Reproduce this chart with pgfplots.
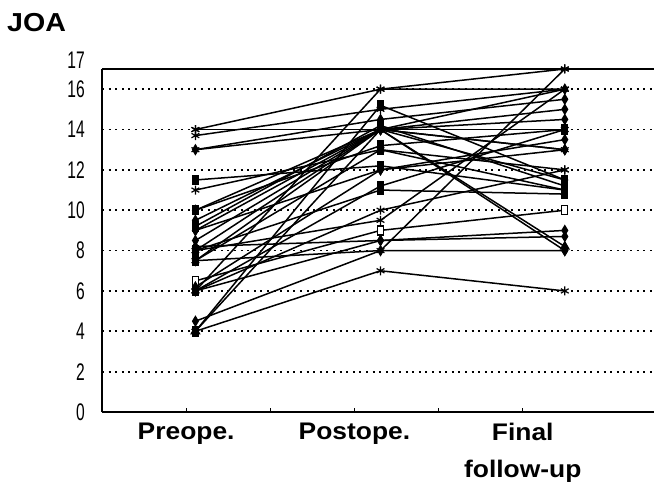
\documentclass[border=0pt]{standalone}
\usepackage{fontspec}
\setmainfont{Liberation Sans}
\newfontfamily\labfont[FakeStretch=1.1]{Liberation Sans}
\newfontfamily\tickfont[FakeStretch=0.65]{Liberation Sans}
\usepackage{pgfplots}
\pgfplotsset{compat=1.18}
\pgfplotsset{
 p/.style={black, line width=1.5pt, mark size=4.5pt},
 mA/.style={p, mark=asterisk, mark options={line width=1.2pt, solid}},
 mS/.style={p, mark=square*, mark options={xscale=0.65, solid, fill=black}},
 mO/.style={p, mark=square*, mark options={xscale=0.65, solid, fill=white, line width=1.2pt}},
 mD/.style={p, mark=diamond*, mark options={xscale=0.8, solid, fill=black}},
 mT/.style={p, mark=triangle*, mark options={solid, fill=black}},
}
\begin{document}
\begin{tikzpicture}
\begin{axis}[
 scale only axis, width=552pt, height=343pt,
 xmin=0, xmax=6.56, ymin=0, ymax=17,
 clip=false,
 axis lines=left, axis line style={-, line width=2.5pt},
 xtick={1,2,3,4,5},
 xticklabels={Preope.,,Postope.,,{Final\\follow-up}},
 xticklabel style={align=center, font=\labfont\bfseries\fontsize{24}{37}\selectfont, anchor=north, inner sep=0pt, yshift=-11pt},
 x tick style={black, line width=1pt},
 tick align=inside, major tick length=4pt,
 ytick={0,2,...,16},
 y tick style={draw=none},
 /pgf/number format/assume math mode=true,
 yticklabel style={font=\tickfont\fontsize{24}{24}\selectfont, anchor=east, inner sep=0pt, xshift=-17pt},
 ymajorgrids,
 major grid style={black, line width=1.8pt, dash pattern=on 2pt off 4.6pt},
 extra y ticks={17},
 extra y tick style={grid=major, major grid style={solid, black, line width=2.5pt}, yticklabel style={yshift=9pt}},
]
\addplot[mA] coordinates {(1.11,14) (3.31,16) (5.50,17)};
\addplot[mA] coordinates {(1.11,14) (3.31,14) (5.50,14)};
\addplot[mA] coordinates {(1.11,13.7) (3.31,15) (5.50,16)};
\addplot[mA] coordinates {(1.11,13) (3.31,14) (5.50,13)};
\addplot[mD] coordinates {(1.11,13) (3.31,14.5) (5.50,15.5)};
\addplot[mS] coordinates {(1.11,11.5) (3.31,12.2) (5.50,11)};
\addplot[mA] coordinates {(1.11,11) (3.31,13) (5.50,12)};
\addplot[mD] coordinates {(1.11,10) (3.31,14) (5.50,11.5)};
\addplot[mS] coordinates {(1.11,10) (3.31,13.2) (5.50,14)};
\addplot[mD] coordinates {(1.11,9.5) (3.31,14) (5.50,16)};
\addplot[mD] coordinates {(1.11,9) (3.31,12) (5.50,13.5)};
\addplot[mD] coordinates {(1.11,8.5) (3.31,14) (5.50,15)};
\addplot[mD] coordinates {(1.11,8.2) (3.31,8.5) (5.50,8.7)};
\addplot[mS] coordinates {(1.11,8) (3.31,11) (5.50,10.8)};
\addplot[mD] coordinates {(1.11,8) (3.31,14) (5.50,8)};
\addplot[mS] coordinates {(1.11,7.5) (3.31,13) (5.50,11)};
\addplot[mD] coordinates {(1.11,7.5) (3.31,14) (5.50,13)};
\addplot[mO] coordinates {(1.11,6.5) (3.31,9) (5.50,10)};
\addplot[mS] coordinates {(1.11,6) (3.31,11.2) (5.50,14)};
\addplot[mA] coordinates {(1.11,6) (3.31,10) (5.50,12)};
\addplot[mD] coordinates {(1.11,6) (3.31,8.5) (5.50,9)};
\addplot[mD] coordinates {(1.11,4.5) (3.31,8) (5.50,8)};
\addplot[mA] coordinates {(1.11,4) (3.31,7) (5.50,6)};
\addplot[mS] coordinates {(1.11,4) (3.31,15.2) (5.50,11.5)};
\addplot[mA] coordinates {(1.11,6) (3.31,16) (5.50,16)};
\addplot[mD] coordinates {(1.11,9) (3.31,14) (5.50,14.5)};
\addplot[mA] coordinates {(1.11,7.5) (3.31,8) (5.50,17)};
\addplot[mA] coordinates {(1.11,8) (3.31,9.5) (5.50,16)};
\addplot[mT] coordinates {(1.11,4) (3.31,14) (5.50,8.2)};
\addplot[mS] coordinates {(1.11,9.2) (3.31,14.2) (5.50,11.2)};
\addplot[mD] coordinates {(1.11,6.2) (3.31,12) (5.50,13)};
\node[anchor=base west, font=\labfont\bfseries\fontsize{26}{26}\selectfont, inner sep=0pt, xshift=-95pt, yshift=37pt] at (rel axis cs:0,1) {JOA};
\coordinate (BL) at (rel axis cs:0,0);
\end{axis}
\pgfresetboundingbox
\path[use as bounding box] ([shift={(-102pt,-76pt)}]BL) rectangle ++(654pt,488pt);
\end{tikzpicture}
\end{document}
